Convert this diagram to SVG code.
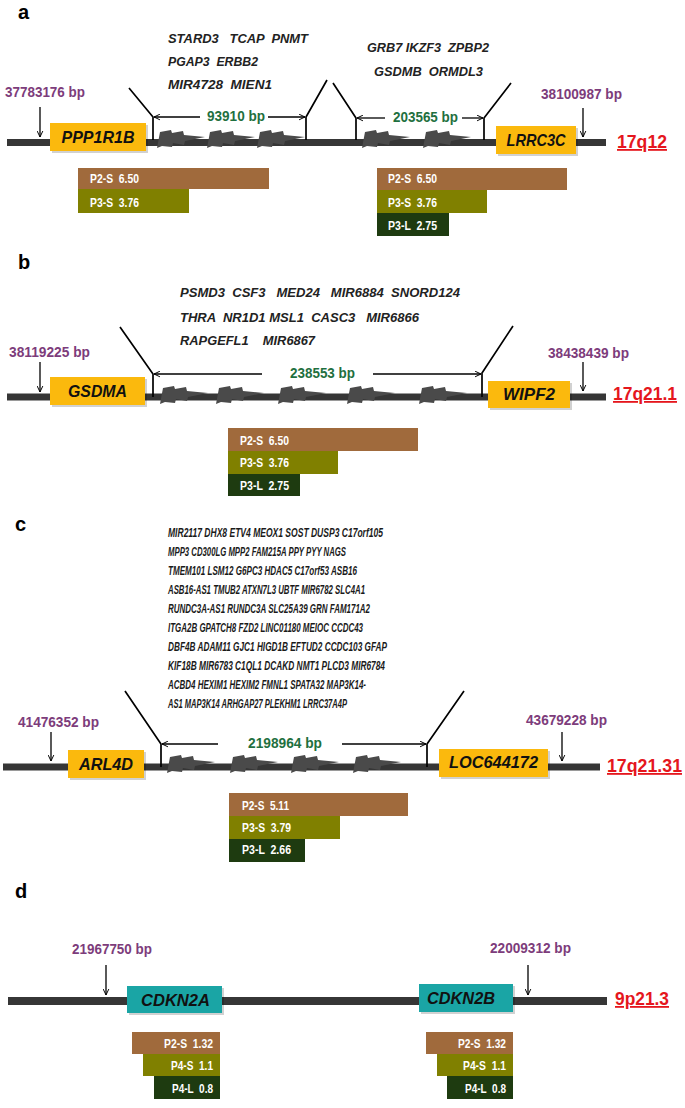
<svg xmlns="http://www.w3.org/2000/svg" width="685" height="1108" viewBox="0 0 685 1108">
<style>
.panel{font-family:"Liberation Sans",Arial,sans-serif;font-weight:bold;font-size:20px;fill:#000}
.chr{fill:#363636}
.bolt{fill:#4a4a4a}
.gbox{fill:#FBB90D}
.tbox{fill:#1AA5A5}
.shd{fill:#000;opacity:0.18}
.gname{font-family:"Liberation Sans",Arial,sans-serif;font-weight:bold;font-style:italic;font-size:17px;fill:#111;text-anchor:middle}
.glist{font-family:"Liberation Sans",Arial,sans-serif;font-weight:bold;font-style:italic;font-size:13px;fill:#222}
.glist2{font-family:"Liberation Sans",Arial,sans-serif;font-weight:bold;font-style:italic;font-size:12.5px;fill:#1a1a1a}
.bp{font-family:"Liberation Sans",Arial,sans-serif;font-weight:bold;font-size:14px;fill:#7D3C7B}
.len{font-family:"Liberation Sans",Arial,sans-serif;font-weight:bold;font-size:14px;fill:#1F7040}
.loc{font-family:"Liberation Sans",Arial,sans-serif;font-weight:bold;font-size:18px;fill:#E5161D;text-decoration:underline}
.bar{font-family:"Liberation Sans",Arial,sans-serif;font-weight:bold;font-size:12.5px;fill:#fff}
.br{fill:none;stroke:#000;stroke-width:1.7}
.ar{fill:none;stroke:#000;stroke-width:1.3}
.p2s{fill:#A06A3C}
.p3s{fill:#808000}
.p3l{fill:#1E3B10}
</style>
<defs>
<marker id="ah" viewBox="0 0 10 10" refX="9.5" refY="5" markerWidth="7" markerHeight="7" orient="auto-start-reverse" markerUnits="userSpaceOnUse">
<path d="M1,1 L9.5,5 L1,9" fill="none" stroke="#000" stroke-width="1.4"/>
</marker>
<path id="bolt" d="M0,18 L3,2 L14,0 L15,3 L26,1 L27,5 L48,7 L28,11 L27,15 L16,13 L15,17 L5,16 Z"/>
</defs>

<!-- Panel a -->
<g id="panel-a">
<text class="panel" x="18" y="19">a</text>
<rect class="chr" x="7" y="139" width="599" height="7"/>
<g class="bolt">
<use href="#bolt" x="157" y="130"/><use href="#bolt" x="207" y="130"/><use href="#bolt" x="257" y="130"/>
<use href="#bolt" x="362" y="130"/><use href="#bolt" x="423" y="130"/>
</g>
<text class="glist" x="168" y="43" textLength="140" lengthAdjust="spacingAndGlyphs" xml:space="preserve">STARD3   TCAP  PNMT</text>
<text class="glist" x="168" y="66" textLength="90" lengthAdjust="spacingAndGlyphs" xml:space="preserve">PGAP3  ERBB2</text>
<text class="glist" x="168" y="89" textLength="104" lengthAdjust="spacingAndGlyphs" xml:space="preserve">MIR4728  MIEN1</text>
<text class="glist" x="367" y="52" textLength="122" lengthAdjust="spacingAndGlyphs" xml:space="preserve">GRB7 IKZF3  ZPBP2</text>
<text class="glist" x="374" y="76" textLength="109" lengthAdjust="spacingAndGlyphs" xml:space="preserve">GSDMB  ORMDL3</text>
<g id="PPP1R1B"><rect class="shd" x="52" y="125" width="96" height="28"/><rect class="gbox" x="50" y="123" width="96" height="28"/><text class="gname" x="98" y="143" textLength="73" lengthAdjust="spacingAndGlyphs">PPP1R1B</text></g>
<g id="LRRC3C"><rect class="shd" x="498" y="128" width="80" height="28"/><rect class="gbox" x="496" y="126" width="80" height="28"/><text class="gname" x="536" y="146" textLength="59" lengthAdjust="spacingAndGlyphs">LRRC3C</text></g>
<text class="bp" x="5" y="97" textLength="80" lengthAdjust="spacingAndGlyphs">37783176 bp</text>
<text class="bp" x="541" y="99" textLength="81" lengthAdjust="spacingAndGlyphs">38100987 bp</text>
<text class="loc" x="617" y="148" textLength="50" lengthAdjust="spacingAndGlyphs">17q12</text>
<text class="len" x="207" y="121" textLength="58" lengthAdjust="spacingAndGlyphs">93910 bp</text>
<text class="len" x="393" y="122" textLength="65" lengthAdjust="spacingAndGlyphs">203565 bp</text>
<g id="bars-a1">
<rect class="p2s" x="78" y="168" width="191" height="21"/><text class="bar" x="90" y="183" textLength="49" lengthAdjust="spacingAndGlyphs" xml:space="preserve">P2-S  6.50</text>
<rect class="p3s" x="78" y="189" width="111" height="24"/><text class="bar" x="90" y="207" textLength="49" lengthAdjust="spacingAndGlyphs" xml:space="preserve">P3-S  3.76</text>
</g>
<g id="bars-a2">
<rect class="p2s" x="377" y="168" width="190" height="22"/><text class="bar" x="388" y="183" textLength="49" lengthAdjust="spacingAndGlyphs" xml:space="preserve">P2-S  6.50</text>
<rect class="p3s" x="377" y="190" width="110" height="23"/><text class="bar" x="388" y="207" textLength="49" lengthAdjust="spacingAndGlyphs" xml:space="preserve">P3-S  3.76</text>
<rect class="p3l" x="377" y="213" width="72" height="23"/><text class="bar" x="388" y="230" textLength="49" lengthAdjust="spacingAndGlyphs" xml:space="preserve">P3-L  2.75</text>
</g>
</g>

<!-- Panel b -->
<g id="panel-b">
<text class="panel" x="18" y="269">b</text>
<rect class="chr" x="7" y="393.5" width="599" height="7"/>
<g class="bolt">
<use href="#bolt" x="160" y="386"/><use href="#bolt" x="216" y="386"/><use href="#bolt" x="278" y="386"/>
<use href="#bolt" x="347" y="386"/><use href="#bolt" x="419" y="386"/>
</g>
<text class="glist" x="180" y="297" textLength="280" lengthAdjust="spacingAndGlyphs" xml:space="preserve">PSMD3  CSF3   MED24   MIR6884  SNORD124</text>
<text class="glist" x="180" y="322" textLength="239" lengthAdjust="spacingAndGlyphs" xml:space="preserve">THRA  NR1D1 MSL1  CASC3   MIR6866</text>
<text class="glist" x="180" y="345" textLength="135" lengthAdjust="spacingAndGlyphs" xml:space="preserve">RAPGEFL1    MIR6867</text>
<g id="GSDMA"><rect class="shd" x="52" y="379" width="95" height="28"/><rect class="gbox" x="50" y="377" width="95" height="28"/><text class="gname" x="97.5" y="397" textLength="59" lengthAdjust="spacingAndGlyphs">GSDMA</text></g>
<g id="WIPF2"><rect class="shd" x="490" y="383" width="82" height="27"/><rect class="gbox" x="488" y="381" width="82" height="27"/><text class="gname" x="529" y="400" textLength="52" lengthAdjust="spacingAndGlyphs">WIPF2</text></g>
<text class="bp" x="9" y="357" textLength="81" lengthAdjust="spacingAndGlyphs">38119225 bp</text>
<text class="bp" x="548" y="358" textLength="81" lengthAdjust="spacingAndGlyphs">38438439 bp</text>
<text class="loc" x="613" y="400" textLength="64" lengthAdjust="spacingAndGlyphs">17q21.1</text>
<text class="len" x="290" y="378" textLength="65" lengthAdjust="spacingAndGlyphs">238553 bp</text>
<g id="bars-b">
<rect class="p2s" x="228" y="428" width="190" height="23"/><text class="bar" x="240" y="445" textLength="49" lengthAdjust="spacingAndGlyphs" xml:space="preserve">P2-S  6.50</text>
<rect class="p3s" x="228" y="451" width="110" height="23"/><text class="bar" x="240" y="467" textLength="49" lengthAdjust="spacingAndGlyphs" xml:space="preserve">P3-S  3.76</text>
<rect class="p3l" x="228" y="474" width="72" height="22"/><text class="bar" x="240" y="490" textLength="49" lengthAdjust="spacingAndGlyphs" xml:space="preserve">P3-L  2.75</text>
</g>
</g>

<!-- Panel c -->
<g id="panel-c">
<text class="panel" x="15" y="531">c</text>
<rect class="chr" x="3" y="763.5" width="597" height="7"/>
<g class="bolt">
<use href="#bolt" x="167" y="755"/><use href="#bolt" x="230" y="755"/><use href="#bolt" x="291" y="755"/><use href="#bolt" x="353" y="755"/>
</g>
<g class="glist2">
<text x="168" y="537" textLength="215" lengthAdjust="spacingAndGlyphs">MIR2117 DHX8 ETV4 MEOX1 SOST DUSP3 C17orf105</text>
<text x="168" y="556" textLength="178" lengthAdjust="spacingAndGlyphs">MPP3 CD300LG MPP2 FAM215A PPY PYY NAGS</text>
<text x="168" y="575" textLength="189" lengthAdjust="spacingAndGlyphs">TMEM101 LSM12 G6PC3 HDAC5 C17orf53 ASB16</text>
<text x="168" y="594" textLength="197" lengthAdjust="spacingAndGlyphs">ASB16-AS1 TMUB2 ATXN7L3 UBTF MIR6782 SLC4A1</text>
<text x="168" y="613" textLength="202" lengthAdjust="spacingAndGlyphs">RUNDC3A-AS1 RUNDC3A SLC25A39 GRN FAM171A2</text>
<text x="168" y="632" textLength="195" lengthAdjust="spacingAndGlyphs">ITGA2B GPATCH8 FZD2 LINC01180 MEIOC CCDC43</text>
<text x="168" y="651" textLength="219" lengthAdjust="spacingAndGlyphs">DBF4B ADAM11 GJC1 HIGD1B EFTUD2 CCDC103 GFAP</text>
<text x="168" y="670" textLength="217" lengthAdjust="spacingAndGlyphs">KIF18B MIR6783 C1QL1 DCAKD NMT1 PLCD3 MIR6784</text>
<text x="168" y="689" textLength="198" lengthAdjust="spacingAndGlyphs">ACBD4 HEXIM1 HEXIM2 FMNL1 SPATA32 MAP3K14-</text>
<text x="168" y="708" textLength="179" lengthAdjust="spacingAndGlyphs">AS1 MAP3K14 ARHGAP27 PLEKHM1 LRRC37A4P</text>
</g>
<g id="ARL4D"><rect class="shd" x="70" y="752" width="76" height="28"/><rect class="gbox" x="68" y="750" width="76" height="28"/><text class="gname" x="106" y="770" textLength="54" lengthAdjust="spacingAndGlyphs">ARL4D</text></g>
<g id="LOC644172"><rect class="shd" x="441" y="751" width="109" height="28"/><rect class="gbox" x="439" y="749" width="109" height="28"/><text class="gname" x="493.5" y="768" textLength="89" lengthAdjust="spacingAndGlyphs">LOC644172</text></g>
<text class="bp" x="18" y="727" textLength="81" lengthAdjust="spacingAndGlyphs">41476352 bp</text>
<text class="bp" x="526" y="725" textLength="81" lengthAdjust="spacingAndGlyphs">43679228 bp</text>
<text class="loc" x="607" y="772" textLength="75" lengthAdjust="spacingAndGlyphs">17q21.31</text>
<text class="len" x="248" y="748" textLength="74" lengthAdjust="spacingAndGlyphs">2198964 bp</text>
<g id="bars-c">
<rect class="p2s" x="229" y="793" width="179" height="23"/><text class="bar" x="242" y="810" textLength="47" lengthAdjust="spacingAndGlyphs" xml:space="preserve">P2-S  5.11</text>
<rect class="p3s" x="229" y="816" width="111" height="23"/><text class="bar" x="242" y="832" textLength="49" lengthAdjust="spacingAndGlyphs" xml:space="preserve">P3-S  3.79</text>
<rect class="p3l" x="229" y="839" width="76" height="23"/><text class="bar" x="242" y="854" textLength="49" lengthAdjust="spacingAndGlyphs" xml:space="preserve">P3-L  2.66</text>
</g>
</g>

<!-- Panel d -->
<g id="panel-d">
<text class="panel" x="15" y="898">d</text>
<rect class="chr" x="8" y="997" width="599" height="8"/>
<g id="CDKN2A"><rect class="shd" x="129" y="988" width="95" height="27"/><rect class="tbox" x="127" y="986" width="95" height="27"/><text class="gname" x="175.5" y="1006" textLength="69" lengthAdjust="spacingAndGlyphs">CDKN2A</text></g>
<g id="CDKN2B"><rect class="shd" x="421" y="986" width="94" height="28"/><rect class="tbox" x="419" y="984" width="94" height="28"/><text class="gname" x="461" y="1004" textLength="68" lengthAdjust="spacingAndGlyphs">CDKN2B</text></g>
<text class="bp" x="72" y="954" textLength="80" lengthAdjust="spacingAndGlyphs">21967750 bp</text>
<text class="bp" x="490" y="953" textLength="81" lengthAdjust="spacingAndGlyphs">22009312 bp</text>
<text class="loc" x="615" y="1005" textLength="54" lengthAdjust="spacingAndGlyphs">9p21.3</text>
<g id="bars-d1">
<rect class="p2s" x="132" y="1032" width="88" height="22"/><text class="bar" x="164" y="1048" textLength="49" lengthAdjust="spacingAndGlyphs" xml:space="preserve">P2-S  1.32</text>
<rect class="p3s" x="143" y="1054" width="77" height="22"/><text class="bar" x="171" y="1070" textLength="42" lengthAdjust="spacingAndGlyphs" xml:space="preserve">P4-S  1.1</text>
<rect class="p3l" x="154" y="1076" width="66" height="23"/><text class="bar" x="172" y="1093" textLength="41" lengthAdjust="spacingAndGlyphs" xml:space="preserve">P4-L  0.8</text>
</g>
<g id="bars-d2">
<rect class="p2s" x="426" y="1032" width="87" height="22"/><text class="bar" x="458" y="1048" textLength="48" lengthAdjust="spacingAndGlyphs" xml:space="preserve">P2-S  1.32</text>
<rect class="p3s" x="437" y="1054" width="76" height="22"/><text class="bar" x="463" y="1070" textLength="43" lengthAdjust="spacingAndGlyphs" xml:space="preserve">P4-S  1.1</text>
<rect class="p3l" x="447" y="1076" width="66" height="23"/><text class="bar" x="465" y="1093" textLength="41" lengthAdjust="spacingAndGlyphs" xml:space="preserve">P4-L  0.8</text>
</g>
</g>

<!-- Connectors -->
<g id="connectors">
<!-- panel a -->
<line class="ar" x1="40" y1="107" x2="40" y2="137" marker-end="url(#ah)"/>
<line class="ar" x1="583" y1="108" x2="583" y2="137" marker-end="url(#ah)"/>
<polyline class="br" points="129,88 153,117 153,140"/>
<polyline class="br" points="327,80 306,117 306,140"/>
<line class="ar" x1="200" y1="117" x2="154" y2="117" marker-end="url(#ah)"/>
<line class="ar" x1="268" y1="117" x2="305" y2="117" marker-end="url(#ah)"/>
<polyline class="br" points="333,83 356,118 356,140"/>
<polyline class="br" points="511,83 484,118 484,140"/>
<line class="ar" x1="385" y1="118" x2="357" y2="118" marker-end="url(#ah)"/>
<line class="ar" x1="462" y1="118" x2="483" y2="118" marker-end="url(#ah)"/>
<!-- panel b -->
<line class="ar" x1="40" y1="362" x2="40" y2="392" marker-end="url(#ah)"/>
<line class="ar" x1="583" y1="362" x2="583" y2="391" marker-end="url(#ah)"/>
<polyline class="br" points="120,327 153,374 153,397"/>
<polyline class="br" points="513,326 482,373 482,397"/>
<line class="ar" x1="262" y1="374" x2="154" y2="374" marker-end="url(#ah)"/>
<line class="ar" x1="373" y1="374" x2="481" y2="374" marker-end="url(#ah)"/>
<!-- panel c -->
<line class="ar" x1="51" y1="732" x2="51" y2="761" marker-end="url(#ah)"/>
<line class="ar" x1="562" y1="732" x2="562" y2="761" marker-end="url(#ah)"/>
<polyline class="br" points="125,691 161,744 161,767"/>
<polyline class="br" points="464,691 427,744 427,767"/>
<line class="ar" x1="218" y1="744" x2="162" y2="744" marker-end="url(#ah)"/>
<line class="ar" x1="342" y1="744" x2="426" y2="744" marker-end="url(#ah)"/>
<!-- panel d -->
<line class="ar" x1="106" y1="965" x2="106" y2="995" marker-end="url(#ah)"/>
<line class="ar" x1="528" y1="965" x2="528" y2="995" marker-end="url(#ah)"/>
</g>
</svg>
